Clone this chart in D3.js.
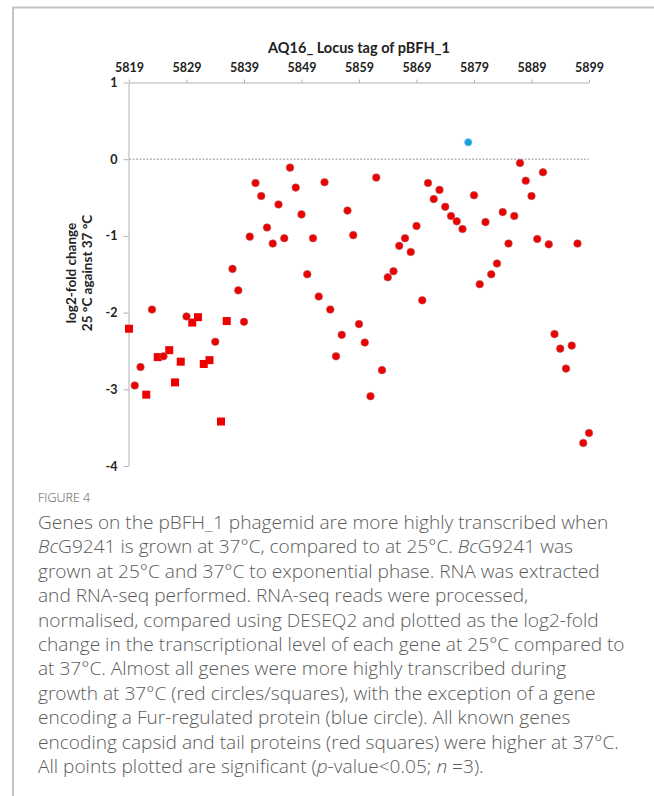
<!DOCTYPE html>
<html>
<head>
<meta charset="utf-8">
<script src="https://cdnjs.cloudflare.com/ajax/libs/d3/7.8.5/d3.min.js"></script>
<style>
  body { margin: 0; background: #fff; }
  .chart text { font-family: Lato, "Liberation Sans", sans-serif; font-weight: bold; fill: #222; }
  .caption { font-family: "Open Sans", "Noto Sans", sans-serif; font-weight: 300; fill: #5a5a5a; }
</style>
</head>
<body>
<svg class="svg-main" width="654" height="796"></svg>
<script>
// locus tags (AQ16_ ...) and log2-fold change 25 °C vs 37 °C
const locusTags = [
  5819, 5820, 5821, 5822, 5823, 5824, 5825, 5826, 5827, 5828,
  5829, 5830, 5831, 5832, 5833, 5834, 5835, 5836, 5837, 5838,
  5839, 5840, 5841, 5842, 5843, 5844, 5845, 5846, 5847, 5848,
  5849, 5850, 5851, 5852, 5853, 5854, 5855, 5856, 5857, 5858,
  5859, 5860, 5861, 5862, 5863, 5864, 5865, 5866, 5867, 5868,
  5869, 5870, 5871, 5872, 5873, 5874, 5875, 5876, 5877, 5878,
  5879, 5880, 5881, 5882, 5883, 5884, 5885, 5886, 5887, 5888,
  5889, 5890, 5891, 5892, 5893, 5894, 5895, 5896, 5897, 5898, 5899
];
const log2fc = [
  -2.21, -2.95, -2.71, -3.07, -1.96, -2.58, -2.57, -2.49, -2.91, -2.64,
  -2.05, -2.13, -2.06, -2.67, -2.62, -2.38, -3.42, -2.11, -1.43, -1.71,
  -2.12, -1.01, -0.31, -0.48, -0.89, -1.10, -0.59, -1.03, -0.11, -0.37,
  -0.72, -1.50, -1.03, -1.79, -0.30, -1.96, -2.57, -2.29, -0.67, -0.99,
  -2.15, -2.39, -3.09, -0.24, -2.75, -1.54, -1.46, -1.13, -1.03, -1.21,
  -0.87, -1.84, -0.31, -0.52, -0.40, -0.62, -0.74, -0.81, -0.91, 0.22,
  -0.47, -1.63, -0.82, -1.50, -1.36, -0.69, -1.10, -0.74, -0.05, -0.28,
  -0.48, -1.04, -0.17, -1.11, -2.28, -2.47, -2.73, -2.43, -1.10, -3.70, -3.57
];
// capsid / tail genes (squares) and Fur-regulated gene (blue)
const squareTags = [5819, 5822, 5824, 5826, 5827, 5828, 5830, 5831, 5832, 5833, 5835, 5836];
const blueTags = [5878];

const xTicks = [5819, 5829, 5839, 5849, 5859, 5869, 5879, 5889, 5899];
const yTicks = [1, 0, -1, -2, -3, -4];

const captionLines = [
  "Genes on the pBFH_1 phagemid are more highly transcribed when",
  "<i>Bc</i>G9241 is grown at 37°C, compared to at 25°C. <i>Bc</i>G9241 was",
  "grown at 25°C and 37°C to exponential phase. RNA was extracted",
  "and RNA-seq performed. RNA-seq reads were processed,",
  "normalised, compared using DESEQ2 and plotted as the log2-fold",
  "change in the transcriptional level of each gene at 25°C compared to",
  "at 37°C. Almost all genes were more highly transcribed during",
  "growth at 37°C (red circles/squares), with the exception of a gene",
  "encoding a Fur-regulated protein (blue circle). All known genes",
  "encoding capsid and tail proteins (red squares) were higher at 37°C.",
  "All points plotted are significant (<i>p</i>-value&lt;0.05; <i>n</i> =3)."
];

const svg = d3.select('.svg-main');

// frame
svg.append("path")
  .attr("d", "M13,796 V7.5 H654")
  .attr("fill", "none")
  .attr("stroke", "#c4c4c4")
  .attr("stroke-width", 2);

const x = d3.scaleLinear().domain([5819, 5899]).range([129, 589]);
const y = d3.scaleLinear().domain([-4, 1]).range([466, 82.5]);

const chart = svg.append("g").attr("class", "chart");

// top axis
const xAxis = chart.append("g")
  .attr("transform", `translate(0,${y(1)})`)
  .call(d3.axisTop(x).tickValues(xTicks).tickFormat(d3.format("d")).tickSize(3).tickSizeOuter(0));
xAxis.select(".domain").attr("stroke", "#b0b0b0");
xAxis.selectAll(".tick line").attr("stroke", "#b0b0b0");
xAxis.selectAll(".tick text")
  .attr("y", -11)
  .attr("font-size", 12.5)
  .attr("fill", "#222");

// left axis
const yAxis = chart.append("g")
  .attr("transform", `translate(${x(5819) - 0.5},0)`)
  .call(d3.axisLeft(y).tickValues(yTicks).tickFormat(d3.format("d")).tickSize(5).tickSizeOuter(0));
yAxis.select(".domain").attr("stroke", "#b0b0b0");
yAxis.selectAll(".tick line").attr("stroke", "#b0b0b0");
yAxis.selectAll(".tick text")
  .attr("x", -11)
  .attr("font-size", 12.5)
  .attr("fill", "#222")
  .text((d) => d < 0 ? "-" + Math.abs(d) : d);

// zero line
chart.append("line")
  .attr("x1", x(5819)).attr("x2", x(5899))
  .attr("y1", y(0)).attr("y2", y(0))
  .attr("stroke", "#999")
  .attr("stroke-width", 1)
  .attr("stroke-dasharray", "2,1.5");

// titles
chart.append("text")
  .attr("x", 359).attr("y", 53)
  .attr("text-anchor", "middle")
  .attr("font-size", 14.5)
  .text("AQ16_ Locus tag of pBFH_1");

const yTitle = chart.append("text")
  .attr("transform", "translate(76,273) rotate(-90)")
  .attr("text-anchor", "middle")
  .attr("font-size", 13.5);
yTitle.append("tspan").attr("x", 0).attr("dy", 0).text("log2-fold change");
yTitle.append("tspan").attr("x", 0).attr("dy", 16).text("25 °C against 37 °C");

// points
const points = locusTags.map((t, i) => ({
  tag: t,
  value: log2fc[i],
  square: squareTags.includes(t),
  blue: blueTags.includes(t)
}));

chart.append("g")
  .selectAll("rect")
  .data(points.filter((d) => d.square))
  .enter().append("rect")
    .attr("x", (d) => x(d.tag) - 4)
    .attr("y", (d) => y(d.value) - 4)
    .attr("width", 8)
    .attr("height", 8)
    .attr("fill", "#ee0000");

chart.append("g")
  .selectAll("circle")
  .data(points.filter((d) => !d.square))
  .enter().append("circle")
    .attr("cx", (d) => x(d.tag))
    .attr("cy", (d) => y(d.value))
    .attr("r", 3.8)
    .attr("fill", (d) => d.blue ? "#1ba1e2" : "#ee0000")
    .attr("stroke", (d) => d.blue ? "#9fd3ee" : "#b06060")
    .attr("stroke-width", 0.6);

// caption
svg.append("text")
  .attr("class", "caption")
  .attr("x", 38).attr("y", 502)
  .attr("font-size", 12.5)
  .attr("font-weight", 400)
  .style("fill", "#555")
  .text("FIGURE 4");

const cap = svg.append("g");
captionLines.forEach((line, i) => {
  const t = cap.append("text")
    .attr("class", "caption")
    .attr("x", 38)
    .attr("y", 529 + i * 24.4)
    .attr("font-size", 19.1);
  // split italic segments
  line.split(/(<i>.*?<\/i>)/).forEach((part) => {
    if (!part) return;
    const it = part.startsWith("<i>");
    t.append("tspan")
      .attr("font-style", it ? "italic" : null)
      .text(part.replace(/<\/?i>/g, "").replace("&lt;", "<"));
  });
});
</script>
</body>
</html>
